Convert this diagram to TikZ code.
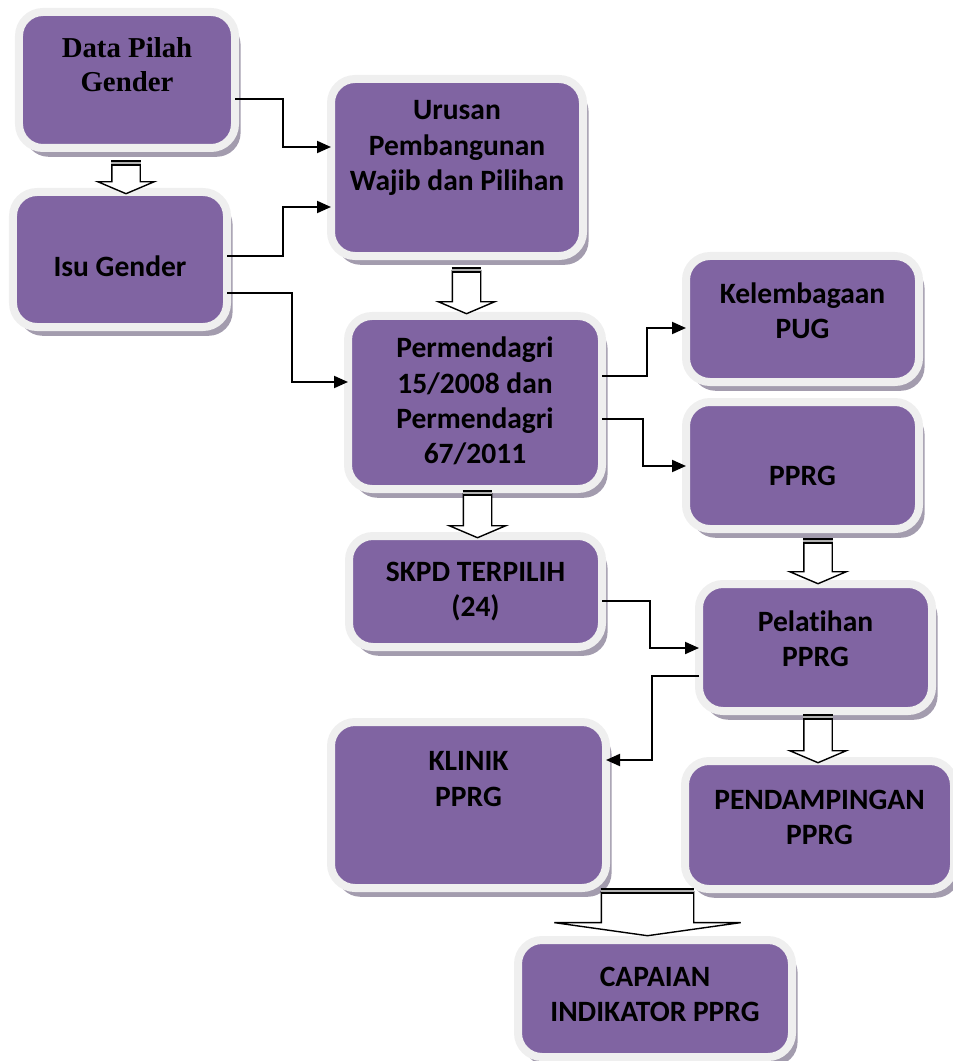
\documentclass[tikz,border=0pt]{standalone}
\usepackage{fontspec}
\setmainfont{Carlito}[Ligatures=NoCommon]
\newfontfamily\timesbold{Liberation Serif}
\usepackage{tikz}
\usetikzlibrary{positioning, arrows.meta, shapes.arrows, shadows}
\definecolor{boxPurple}{HTML}{8064A2}
\definecolor{boxRim}{HTML}{EFEFEF}
\definecolor{boxShadow}{HTML}{A39CAE}

\begin{document}
\begin{tikzpicture}[
  x=0.25mm, y=-0.25mm,
  box/.style={draw=boxRim, line width=2mm, fill=boxPurple, rounded corners=6mm, outer sep=0pt,
              drop shadow={shadow xshift=1.4mm, shadow yshift=-2.2mm, fill=boxShadow, opacity=1}},
  txt/.style={align=center, inner sep=0pt, font=\bfseries\fontsize{21}{25}\selectfont},
  link/.style={line width=0.5mm, -{Triangle[length=3.5mm, width=3mm]}},
  blk/.style={single arrow, shape border rotate=270, draw, fill=white, line width=0.35mm,
              inner xsep=3.375mm, inner ysep=0pt, single arrow head extend=3.5mm,
              single arrow tip angle=134, anchor=tail},
  bar/.style={line width=0.7mm, double=gray!60, double distance=0.3mm},
]
  \useasboundingbox (0,0) rectangle (952,1061);

  % boxes
  \node[box, minimum width=54mm, minimum height=34mm] (data) at (127,80) {};
  \node[box, minimum width=53.5mm, minimum height=33.75mm] (isu) at (120,259.5) {};
  \node[box, minimum width=63mm, minimum height=44.25mm] (urusan) at (457,167.5) {};
  \node[box, minimum width=63.5mm, minimum height=43.25mm] (permen) at (475,402.5) {};
  \node[box, minimum width=58.25mm, minimum height=31.5mm] (lembaga) at (802.5,319) {};
  \node[box, minimum width=58.25mm, minimum height=31.75mm] (pprg) at (802.5,465.5) {};
  \node[box, minimum width=63.25mm, minimum height=27.75mm] (skpd) at (475.5,591.5) {};
  \node[box, minimum width=58.25mm, minimum height=31.75mm] (latih) at (815.5,647.5) {};
  \node[box, minimum width=68.75mm, minimum height=41.5mm] (klinik) at (468.5,805) {};
  \node[box, minimum width=67.25mm, minimum height=32mm] (damping) at (819.5,825) {};
  \node[box, minimum width=68.5mm, minimum height=29.25mm] (capaian) at (655,998.5) {};

  % texts
  \node[txt, font=\timesbold\bfseries\fontsize{20.5}{24}\selectfont] (data-t) at (127,65) {Data Pilah\\Gender};
  \node[txt] (isu-t) at (120,266) {Isu Gender};
  \node[txt] (urusan-t) at (457,148) {Urusan\\Pembangunan\\Wajib dan Pilihan};
  \node[txt] (permen-t) at (475,401) {Permendagri\\15/2008 dan\\Permendagri\\67/2011};
  \node[txt] (lembaga-t) at (802.5,310.5) {Kelembagaan\\PUG};
  \node[txt] (pprg-t) at (802.5,476) {PPRG};
  \node[txt] (skpd-t) at (475.5,591.5) {SKPD TERPILIH\\(24)};
  \node[txt] (latih-t) at (815.5,639) {Pelatihan\\PPRG};
  \node[txt] (klinik-t) at (468.5,779) {KLINIK\\PPRG};
  \node[txt] (damping-t) at (819.5,817) {PENDAMPINGAN\\PPRG};
  \node[txt] (capaian-t) at (655,994.5) {CAPAIAN\\INDIKATOR PPRG};

  % block arrows
  \node[blk, minimum height=7.5mm] (a1) at (126,163) {};
  \node[blk, minimum height=10.75mm] (a2) at (466.5,270) {};
  \node[blk, minimum height=11mm] (a3) at (477.5,493) {};
  \node[blk, minimum height=10.5mm] (a4) at (818,541) {};
  \node[blk, minimum height=11.25mm] (a5) at (818,717) {};
  \node[blk, minimum height=11mm, inner xsep=11.375mm, single arrow head extend=11.75mm,
        single arrow tip angle=164] (a6) at (647.5,891) {};
  \draw[bar] (a1.before tail) -- (a1.after tail);
  \draw[bar] (a2.before tail) -- (a2.after tail);
  \draw[bar] (a3.before tail) -- (a3.after tail);
  \draw[bar] (a4.before tail) -- (a4.after tail);
  \draw[bar] (a5.before tail) -- (a5.after tail);
  \draw[bar] (a6.before tail) -- (a6.after tail);

  % links
  \draw[link] (data.east |- 0,99) -- (283,99) |- (urusan.west |- 0,147);
  \draw[link] (isu.east |- 0,256) -- (283,256) |- (urusan.west |- 0,207);
  \draw[link] (isu.east |- 0,293) -- (292,293) |- (permen.west |- 0,382);
  \draw[link] (permen.east |- 0,376) -- (647,376) |- (lembaga.west |- 0,328);
  \draw[link] (permen.east |- 0,419) -- (643,419) |- (pprg.west |- 0,466);
  \draw[link] (skpd.east |- 0,601) -- (650,601) |- (latih.west |- 0,648);
  \draw[link] (latih.west |- 0,676) -- (652,676) |- (klinik.east |- 0,760);
\end{tikzpicture}
\end{document}
